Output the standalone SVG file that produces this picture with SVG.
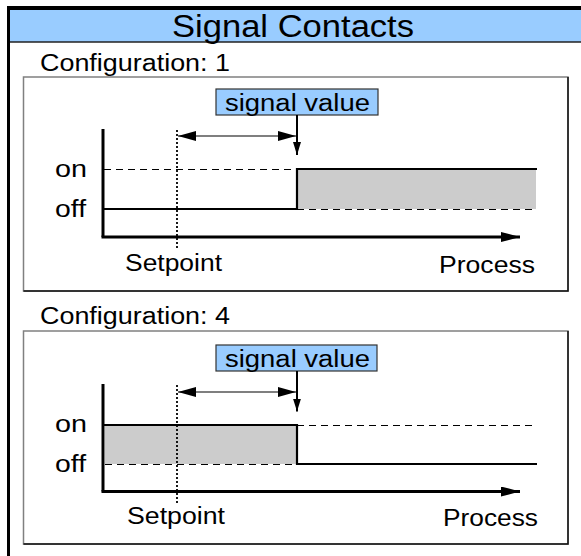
<svg xmlns="http://www.w3.org/2000/svg" width="581" height="556" viewBox="0 0 581 556">
<style>
text{font-family:"Liberation Sans",Arial,sans-serif;fill:#000;}
.lbl{font-size:23px;}
.panel{fill:#fff;stroke:#808080;stroke-width:1.5;}
.shadow{stroke:#111;stroke-width:1.5;fill:none;}
.axis{stroke:#000;stroke-width:3;fill:none;}
.lvl{stroke:#000;stroke-width:2.2;fill:none;}
.dash{stroke:#000;stroke-width:1;stroke-dasharray:7,5;fill:none;}
.dot{stroke:#000;stroke-width:1.8;stroke-dasharray:2,2;fill:none;}
.thin{stroke:#000;stroke-width:1.2;fill:none;}
.sv{fill:#99ccff;stroke:#333;stroke-width:1.2;}
.gray{fill:#cccccc;}
</style>
<defs>
<marker id="ah" markerWidth="19" markerHeight="10" refX="19" refY="5" orient="auto" markerUnits="userSpaceOnUse"><path d="M0,0 L19,5 L0,10 Z" fill="#000"/></marker>
<marker id="dah" markerWidth="18" markerHeight="10" refX="18" refY="5" orient="auto-start-reverse" markerUnits="userSpaceOnUse"><path d="M0,0 L18,5 L0,10 Z" fill="#000"/></marker>
<marker id="vah" markerWidth="13" markerHeight="8" refX="13" refY="4" orient="auto" markerUnits="userSpaceOnUse"><path d="M0,0 L13,4 L0,8 Z" fill="#000"/></marker>
</defs>
<g id="frame">
<rect x="10" y="10" width="571" height="32" fill="#99ccff"/>
<line x1="10" y1="42" x2="581" y2="42" stroke="#222" stroke-width="1.5"/>
<rect x="7" y="6" width="574" height="4" fill="#000"/>
<rect x="7" y="6" width="3" height="550" fill="#000"/>
<text x="293" y="37" text-anchor="middle" style="font-size:31px" textLength="242" lengthAdjust="spacingAndGlyphs">Signal Contacts</text>
</g>
<g id="config1">
<text class="lbl" x="40" y="70.5" textLength="190" lengthAdjust="spacingAndGlyphs">Configuration: 1</text>
<rect class="panel" x="23.5" y="77" width="544.5" height="214"/>
<polyline class="shadow" points="568,77 568,291 23.5,291"/>
<rect class="gray" x="297" y="169" width="239" height="40"/>
<line class="dash" x1="104" y1="169.5" x2="297" y2="169.5"/>
<line class="dash" x1="297" y1="209.5" x2="536" y2="209.5"/>
<polyline class="lvl" points="104,209 297,209 297,169 537,169"/>
<line class="axis" x1="103" y1="129" x2="103" y2="237"/>
<line class="axis" x1="101.5" y1="237" x2="520" y2="237" marker-end="url(#ah)"/>
<line class="dot" x1="177" y1="130" x2="177" y2="250"/>
<line class="thin" x1="178" y1="136" x2="296" y2="136" marker-start="url(#dah)" marker-end="url(#dah)"/>
<g id="sv1">
<rect class="sv" x="216" y="89" width="162" height="26"/>
<text class="lbl" x="225" y="110.5" textLength="145" lengthAdjust="spacingAndGlyphs">signal value</text>
</g>
<line x1="297" y1="115" x2="297" y2="155" stroke="#000" stroke-width="2" marker-end="url(#vah)"/>
<text class="lbl" x="55" y="177" textLength="32" lengthAdjust="spacingAndGlyphs">on</text>
<text class="lbl" x="55" y="217" textLength="31" lengthAdjust="spacingAndGlyphs">off</text>
<text class="lbl" x="125" y="271" textLength="97" lengthAdjust="spacingAndGlyphs">Setpoint</text>
<text class="lbl" x="439" y="273" textLength="96" lengthAdjust="spacingAndGlyphs">Process</text>
</g>
<g id="config4">
<text class="lbl" x="40" y="323.5" textLength="190" lengthAdjust="spacingAndGlyphs">Configuration: 4</text>
<rect class="panel" x="23.5" y="331" width="544.5" height="213"/>
<polyline class="shadow" points="568,331 568,544 23.5,544"/>
<rect class="gray" x="105" y="425" width="192" height="39"/>
<line class="dash" x1="105" y1="464.5" x2="297" y2="464.5"/>
<line class="dash" x1="297" y1="425.5" x2="536" y2="425.5"/>
<polyline class="lvl" points="104,425 297,425 297,464 537,464"/>
<line class="axis" x1="103" y1="384" x2="103" y2="491.5"/>
<line class="axis" x1="101.5" y1="491.5" x2="520" y2="491.5" marker-end="url(#ah)"/>
<line class="dot" x1="177" y1="385" x2="177" y2="505"/>
<line class="thin" x1="178" y1="392" x2="296" y2="392" marker-start="url(#dah)" marker-end="url(#dah)"/>
<g id="sv4">
<rect class="sv" x="216" y="345" width="161" height="26"/>
<text class="lbl" x="225" y="366.5" textLength="145" lengthAdjust="spacingAndGlyphs">signal value</text>
</g>
<line x1="297" y1="371" x2="297" y2="411.5" stroke="#000" stroke-width="2" marker-end="url(#vah)"/>
<text class="lbl" x="55" y="432" textLength="32" lengthAdjust="spacingAndGlyphs">on</text>
<text class="lbl" x="55" y="472" textLength="31" lengthAdjust="spacingAndGlyphs">off</text>
<text class="lbl" x="127" y="523.5" textLength="98" lengthAdjust="spacingAndGlyphs">Setpoint</text>
<text class="lbl" x="443" y="525.5" textLength="95" lengthAdjust="spacingAndGlyphs">Process</text>
</g>
</svg>
